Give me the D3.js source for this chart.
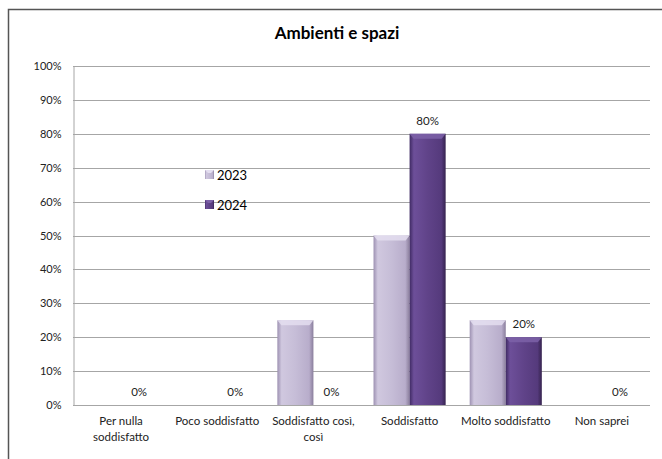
<!DOCTYPE html>
<html>
<head>
<meta charset="utf-8">
<script src="https://cdn.jsdelivr.net/npm/d3@7"></script>
<style>
  html, body { margin: 0; padding: 0; background: #fff; }
  svg { display: block; font-family: Lato, "Open Sans", "Liberation Sans", sans-serif; }
</style>
</head>
<body>
<svg id="chart" width="662" height="459"></svg>
<script>
// Answer categories and the share of respondents for each year
const categories = ["Per nulla soddisfatto", "Poco soddisfatto", "Soddisfatto così, così", "Soddisfatto", "Molto soddisfatto", "Non saprei"];
const categoryLines = [["Per nulla", "soddisfatto"], ["Poco soddisfatto"], ["Soddisfatto così,", "così"], ["Soddisfatto"], ["Molto soddisfatto"], ["Non saprei"]];
const seriesNames = ["2023", "2024"];
const values2023 = [0, 0, 25, 50, 25, 0];
const values2024 = [0, 0, 0, 80, 20, 0];
const yTicks = [0, 10, 20, 30, 40, 50, 60, 70, 80, 90, 100];
const titleText = "Ambienti e spazi";

const series = [
  { name: seriesNames[0], values: values2023, labelled: false },
  { name: seriesNames[1], values: values2024, labelled: true }
];

const svg = d3.select("#chart");
const W = 662, H = 459;
const plot = { left: 73, right: 650, top: 66, bottom: 405 };

// outer chart frame
svg.append("rect")
  .attr("x", 8.5).attr("y", 9.5)
  .attr("width", W + 10).attr("height", H + 10)
  .attr("fill", "#fff").attr("stroke", "#555").attr("stroke-width", 1.5);

// gradients giving the bars their bevelled look
const defs = svg.append("defs");
const palettes = [
  { id: "g2023", stops: [["0%", "#9d91b2"], ["12%", "#d0c8df"], ["50%", "#c6bdd7"], ["88%", "#b8adcb"], ["100%", "#8a7e9c"]], top: "#e4def0" },
  { id: "g2024", stops: [["0%", "#3f2a63"], ["12%", "#6d4f99"], ["50%", "#604389"], ["88%", "#553a7c"], ["100%", "#36234f"]], top: "#7d61a8" }
];
palettes.forEach(p => {
  const g = defs.append("linearGradient").attr("id", p.id).attr("x1", "0%").attr("x2", "100%").attr("y1", "0%").attr("y2", "0%");
  p.stops.forEach(s => g.append("stop").attr("offset", s[0]).attr("stop-color", s[1]));
});

const x = d3.scaleBand().domain(categories).range([plot.left, plot.right]).paddingInner(0.25).paddingOuter(0.125);
const xs = d3.scaleBand().domain(seriesNames).range([0, x.bandwidth()]);
const y = d3.scaleLinear().domain([0, 100]).range([plot.bottom, plot.top]);

// title
svg.append("text")
  .attr("x", 337).attr("y", 39)
  .attr("text-anchor", "middle")
  .attr("font-size", 17).attr("font-weight", "bold").attr("fill", "#000")
  .text(titleText);

// horizontal gridlines
svg.append("g").selectAll("line").data(yTicks.slice(1)).join("line")
  .attr("x1", plot.left).attr("x2", plot.right)
  .attr("y1", d => Math.round(y(d)) + 0.5).attr("y2", d => Math.round(y(d)) + 0.5)
  .attr("stroke", "#a6a6a6").attr("stroke-width", 1);

// y axis
const yAxis = d3.axisLeft(y).tickValues(yTicks).tickFormat(d => d + "%").tickSize(0).tickPadding(12);
const ya = svg.append("g").attr("transform", `translate(${plot.left + 0.5},0)`).call(yAxis);
ya.select(".domain").attr("stroke", "#a6a6a6");
ya.selectAll("text").attr("font-size", 11).attr("fill", "#222").attr("font-family", "Lato, 'Open Sans', sans-serif");

// bars
const barG = svg.append("g");
series.forEach((s, si) => {
  const gs = barG.append("g");
  s.values.forEach((v, i) => {
    if (v <= 0) return;
    const bx = x(categories[i]) + xs(s.name);
    const bw = xs.bandwidth();
    const by = y(v);
    const bh = y(0) - y(v);
    gs.append("rect").attr("x", bx).attr("y", by).attr("width", bw).attr("height", bh)
      .attr("fill", `url(#${palettes[si].id})`);
    // top bevel
    const bev = Math.min(5, bh);
    gs.append("path")
      .attr("d", `M${bx},${by} L${bx + bw},${by} L${bx + bw - 4},${by + bev} L${bx + 4},${by + bev} Z`)
      .attr("fill", palettes[si].top).attr("opacity", 0.85);
  });
});

// baseline
svg.append("line")
  .attr("x1", plot.left).attr("x2", plot.right)
  .attr("y1", Math.round(y(0)) + 0.5).attr("y2", Math.round(y(0)) + 0.5)
  .attr("stroke", "#a6a6a6");

// value labels for the latest year
series.filter(s => s.labelled).forEach(s => {
  svg.append("g").selectAll("text").data(s.values).join("text")
    .attr("x", (d, i) => x(categories[i]) + xs(s.name) + xs.bandwidth() / 2)
    .attr("y", d => y(d) - 9)
    .attr("text-anchor", "middle")
    .attr("font-size", 11.5).attr("fill", "#222")
    .text(d => d + "%");
});

// category labels
const catG = svg.append("g");
categories.forEach((c, i) => {
  const t = catG.append("text")
    .attr("x", x(c) + x.bandwidth() / 2)
    .attr("y", plot.bottom + 20)
    .attr("text-anchor", "middle")
    .attr("font-size", 11.5).attr("fill", "#222");
  categoryLines[i].forEach((ln, li) => {
    t.append("tspan").attr("x", x(c) + x.bandwidth() / 2).attr("dy", li === 0 ? 0 : 16).text(ln);
  });
});

// legend
const legend = svg.append("g").attr("transform", "translate(205,170)");
seriesNames.forEach((n, i) => {
  const g = legend.append("g").attr("transform", `translate(0,${i * 30})`);
  g.append("rect").attr("width", 9).attr("height", 9).attr("fill", `url(#${palettes[i].id})`);
  g.append("path").attr("d", "M0,0 L9,0 L6,3 L3,3 Z").attr("fill", palettes[i].top);
  g.append("text").attr("x", 12).attr("y", 9.5).attr("font-size", 13).attr("fill", "#000").text(n);
});
</script>
</body>
</html>
